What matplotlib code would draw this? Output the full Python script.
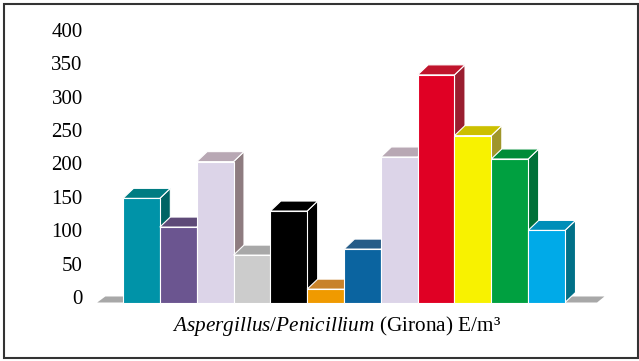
import matplotlib
matplotlib.use("Agg")
import matplotlib.pyplot as plt
from matplotlib.patches import Polygon, Rectangle
from matplotlib.transforms import ScaledTranslation

# ========== Data ==========
values = [156, 113, 211, 71, 137, 20, 80, 218, 341, 250, 215, 108]
front_colors = ["#0093A8", "#6B5590", "#DCD4E8", "#CCCCCC", "#000000", "#F09A00",
                "#0B64A0", "#DCD4E8", "#E00024", "#F8F200", "#00A040", "#00AAE8"]
top_colors = ["#007C82", "#5E4A78", "#B8A8B4", "#A8A8A8", "#000000", "#C8822A",
              "#255C88", "#B8A8B4", "#C0142C", "#CCC000", "#008C38", "#008EB8"]
side_colors = ["#006464", "#4E3D66", "#8E7C80", "#8A8A8A", "#000000", "#A06010",
               "#1A4A70", "#8E7C80", "#9A1E30", "#A0962A", "#007038", "#007088"]
yticks = [0, 50, 100, 150, 200, 250, 300, 350, 400]

plt.rcParams["font.family"] = ["Liberation Serif", "DejaVu Serif"]
plt.rcParams["mathtext.fontset"] = "custom"
plt.rcParams["mathtext.rm"] = "Liberation Serif"
plt.rcParams["mathtext.it"] = "Liberation Serif:italic"

fig = plt.figure(figsize=(6.39, 3.61), dpi=100)
ax = fig.add_axes([123 / 639, 58.5 / 361, 442 / 639, 267 / 361])
ax.set_xlim(0, 12)
ax.set_ylim(0, 400)

# depth offsets of the 3D look
dx, dy = 0.285, 15
fdx, fdy = 0.2, 9

# floor
floor = Polygon([(-0.7, 0), (12.87, 0), (12.87 + fdx, fdy), (-0.7 + fdx + 0.02, fdy)],
                closed=True, facecolor="#A8A8A8", edgecolor="none", clip_on=False, zorder=1)
ax.add_patch(floor)

# bars drawn left to right so later bars cover earlier sides
for i, v in enumerate(values):
    x0, x1 = i, i + 1
    kw = dict(closed=True, edgecolor="white", linewidth=0.8, clip_on=False, zorder=2)
    side = Polygon([(x1, 0), (x1 + dx, dy), (x1 + dx, v + dy), (x1, v)],
                   facecolor=side_colors[i], **kw)
    top = Polygon([(x0, v), (x1, v), (x1 + dx, v + dy), (x0 + dx, v + dy)],
                  facecolor=top_colors[i], **kw)
    front = Polygon([(x0, 0), (x1, 0), (x1, v), (x0, v)],
                    facecolor=front_colors[i], **kw)
    ax.add_patch(side)
    ax.add_patch(top)
    ax.add_patch(front)

ax.set_yticks(yticks)
ax.set_yticklabels([str(t) for t in yticks], fontsize=15)
ax.tick_params(axis="y", length=0, pad=29)
shift = ScaledTranslation(0, 5.5 / 100, fig.dpi_scale_trans)
for lab in ax.get_yticklabels():
    lab.set_transform(lab.get_transform() + shift)
ax.set_xticks([])
for s in ax.spines.values():
    s.set_visible(False)
ax.patch.set_visible(False)

fig.text(336.5 / 639, 35 / 361,
         r"$\mathit{Aspergillus/Penicillium}$ (Girona) E/m³",
         ha="center", va="center", fontsize=15.3)

# outer frame
fig.patches.append(Rectangle((4 / 639, 3 / 361), 634 / 639, 354 / 361,
                             transform=fig.transFigure, fill=False,
                             edgecolor="#333333", linewidth=1.5))

fig.savefig("out.png", dpi=100)
